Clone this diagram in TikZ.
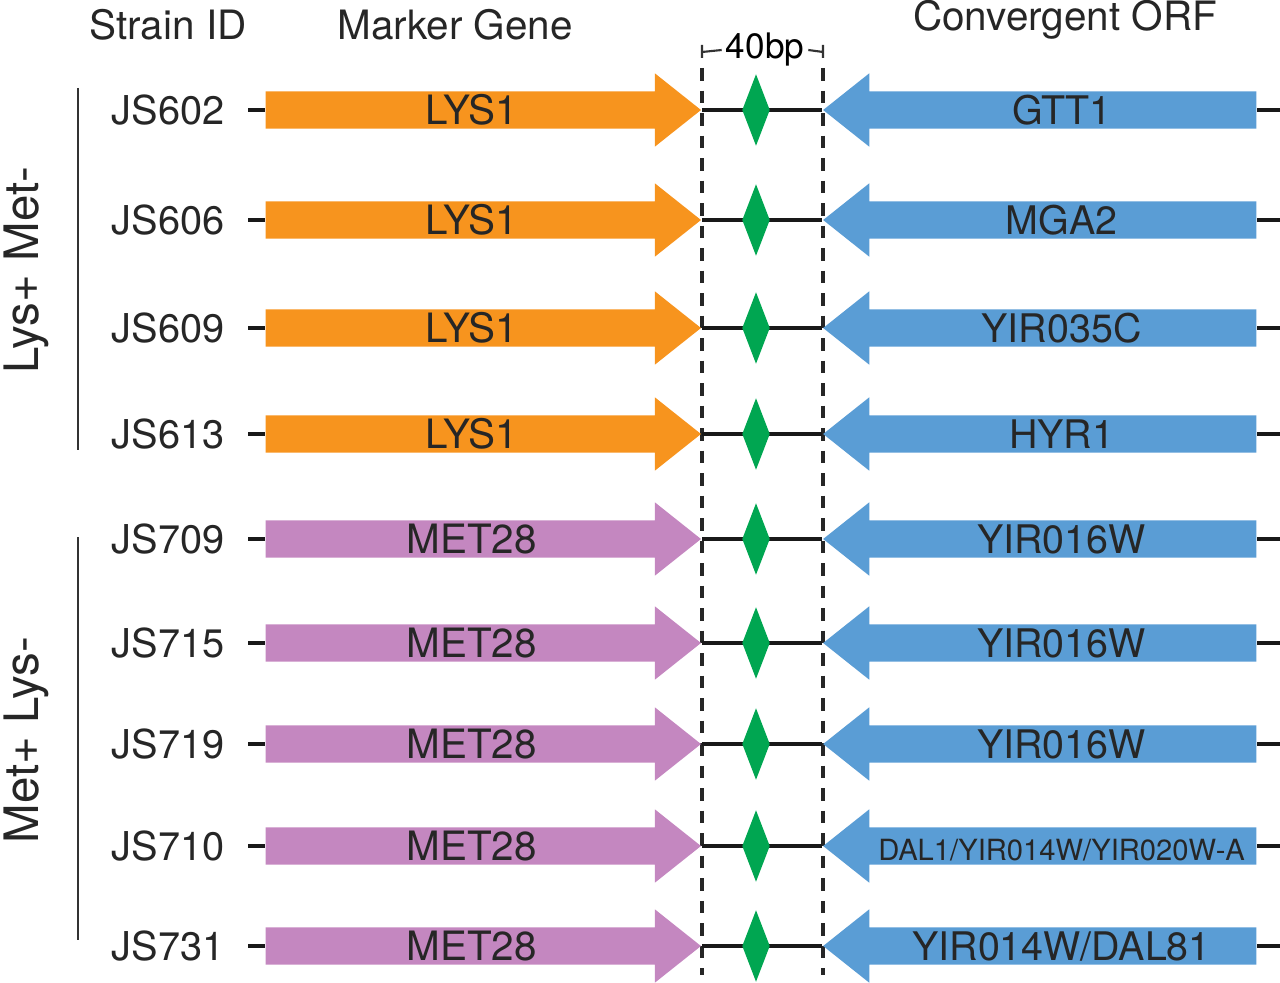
\documentclass[tikz,border=0pt]{standalone}
\usepackage{fontspec}
\setmainfont{TeX Gyre Heros}
\usetikzlibrary{positioning,shapes.arrows,shapes.geometric}
\definecolor{LysOrange}{RGB}{247,148,30}
\definecolor{MetPurple}{RGB}{196,135,192}
\definecolor{OrfBlue}{RGB}{90,157,213}
\definecolor{SiteGreen}{RGB}{0,166,81}
\tikzset{
    genearrow/.style={single arrow, draw=none, minimum width=0.72cm,
        single arrow head extend=0.18cm, single arrow tip angle=77,
        inner xsep=0pt, inner ysep=0pt, text height=0.325cm, text depth=0.035cm,
        font=\fontsize{11.5}{13}\selectfont, text=black!85},
    markerarrow/.style={genearrow, fill=#1, minimum height=4.35cm, anchor=tail},
    orfarrow/.style={genearrow, fill=OrfBlue, minimum height=4.33cm,
        shape border rotate=180, anchor=tip},
    site/.style={diamond, fill=SiteGreen, draw=none, inner sep=0pt,
        minimum width=0.28cm, minimum height=0.72cm},
    dna/.style={draw=black!90, line width=1.4pt},
    strainlabel/.style={anchor=east, inner sep=0pt, font=\fontsize{11.3}{13}\selectfont, text=black!85},
    header/.style={font=\fontsize{11.5}{13}\selectfont, text=black!85},
    grouplabel/.style={rotate=90, font=\fontsize{13.5}{15}\selectfont, text=black!85},
    groupbar/.style={draw=black!80, line width=0.6pt},
    window/.style={draw=black!85, line width=0.9pt, dash pattern=on 3.6pt off 2.8pt}
}
\begin{document}
\begin{tikzpicture}[x=0.01cm, y=-0.01cm]
    \useasboundingbox (0,0) rectangle (1280,982);

    % --- column headers
    \node[header] (hstrain) at (168,25) {Strain ID};
    \node[header] (hmarker) at (455,25) {Marker Gene};
    \node[header] (horf) at (1065,20) {Convergent ORF};

    % --- 40bp window
    \node[font=\fontsize{10}{11}\selectfont, inner sep=1pt] (bp) at (765,50) {40bp};
    \draw[groupbar] (702,45) -- (702,58) (702,52) -- (bp.west);
    \draw[groupbar] (823,45) -- (823,58) (823,52) -- (bp.east);
    \draw[window] (702,68) -- (702,975);
    \draw[window] (823,68) -- (823,975);

    % --- strains
    \foreach \y/\sid/\gene/\col/\orf/\fs [count=\i] in {
        110/JS602/LYS1/LysOrange/GTT1/11.2,
        220/JS606/LYS1/LysOrange/MGA2/11.2,
        328/JS609/LYS1/LysOrange/YIR035C/11.2,
        434/JS613/LYS1/LysOrange/HYR1/11.2,
        539/JS709/MET28/MetPurple/YIR016W/11.2,
        643/JS715/MET28/MetPurple/YIR016W/11.2,
        744/JS719/MET28/MetPurple/YIR016W/11.2,
        846/JS710/MET28/MetPurple/{DAL1/YIR014W/YIR020W-A}/8.3,
        946/JS731/MET28/MetPurple/{YIR014W/DAL81}/11.2}{
        \coordinate (lend\i) at (248,\y);
        \coordinate (rend\i) at (1280,\y);
        \node[strainlabel] (strain\i) at (225,\y) {\sid};
        \node[markerarrow=\col] (marker\i) at (265,\y) {\gene};
        \node[orfarrow] (orf\i) at (822,\y) {\fontsize{\fs}{12}\selectfont\hspace{0.2cm}\orf};
        \draw[dna] (lend\i) -- (marker\i.tail);
        \draw[dna] (marker\i.tip) -- (orf\i.tip);
        \draw[dna] (orf\i.tail) -- (rend\i);
        \node[site] (site\i) at (756,\y) {};
    }

    % --- phenotype groups
    \draw[groupbar] (78,88) -- (78,450);
    \node[grouplabel] (glys) at (26,270) {Lys+ Met-};
    \draw[groupbar] (78,537) -- (78,940);
    \node[grouplabel] (gmet) at (26,740) {Met+ Lys-};
\end{tikzpicture}
\end{document}
